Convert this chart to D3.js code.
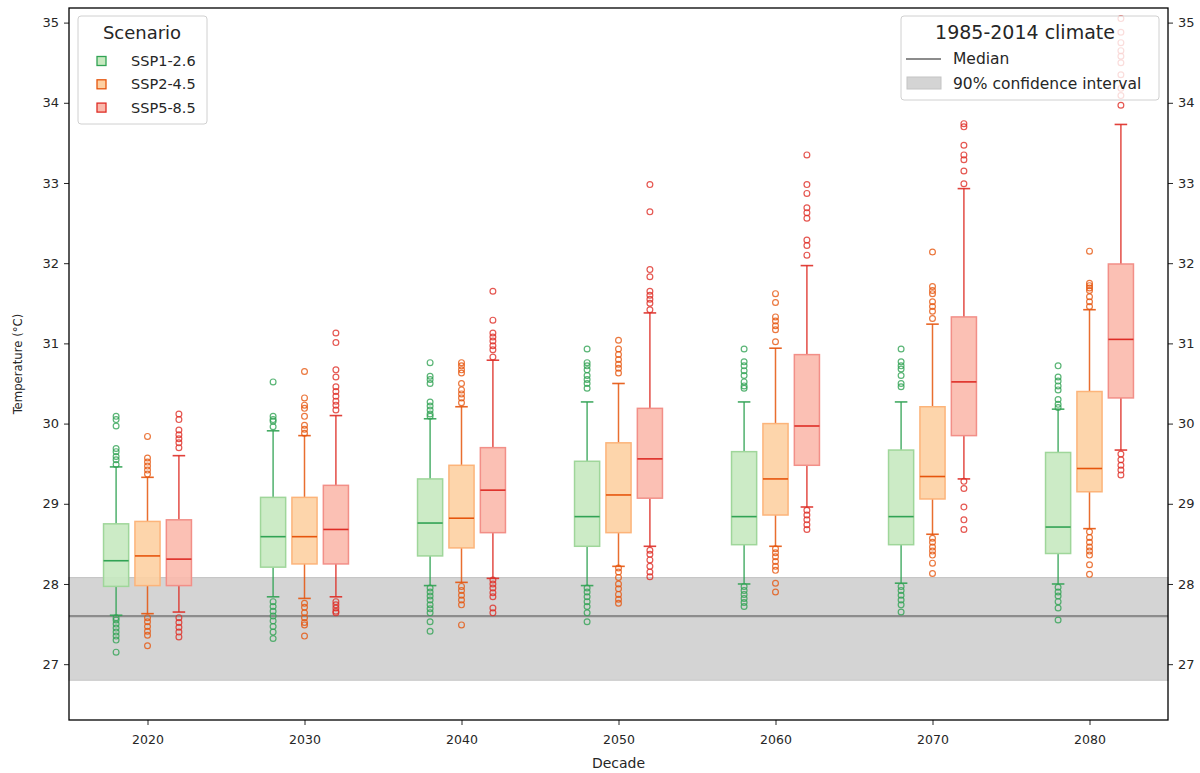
<!DOCTYPE html>
<html>
<head>
<meta charset="utf-8">
<script src="https://cdn.jsdelivr.net/npm/d3@7"></script>
<style>
  body { margin: 0; background: #fff; }
  text { font-family: "DejaVu Sans", sans-serif; fill: #262626; }
</style>
</head>
<body>
<div class="chart"></div>
<script>
// decades and scenarios
const decades = [2020, 2030, 2040, 2050, 2060, 2070, 2080];
const scenarios = ["SSP1-2.6", "SSP2-4.5", "SSP5-8.5"];
const yTicks = [27, 28, 29, 30, 31, 32, 33, 34, 35];

// box stats per decade: [low whisker, q1, median, q3, high whisker]
const ssp126 = [
  [27.61, 27.97, 28.29, 28.75, 29.46],
  [27.84, 28.21, 28.59, 29.08, 29.91],
  [27.98, 28.35, 28.76, 29.31, 30.06],
  [27.98, 28.47, 28.84, 29.53, 30.27],
  [28.0, 28.49, 28.84, 29.65, 30.27],
  [28.01, 28.49, 28.84, 29.67, 30.27],
  [28.0, 28.38, 28.71, 29.64, 30.18]
];
const ssp245 = [
  [27.63, 27.98, 28.35, 28.78, 29.33],
  [27.82, 28.25, 28.59, 29.08, 29.85],
  [28.02, 28.45, 28.82, 29.48, 30.21],
  [28.22, 28.64, 29.11, 29.76, 30.5],
  [28.47, 28.86, 29.31, 30.0, 30.94],
  [28.62, 29.06, 29.34, 30.21, 31.24],
  [28.69, 29.15, 29.44, 30.4, 31.42]
];
const ssp585 = [
  [27.65, 27.98, 28.31, 28.8, 29.6],
  [27.84, 28.25, 28.68, 29.23, 30.1],
  [28.07, 28.64, 29.17, 29.7, 30.79],
  [28.47, 29.07, 29.56, 30.19, 31.38],
  [28.96, 29.48, 29.97, 30.86, 31.97],
  [29.31, 29.85, 30.52, 31.33, 32.93],
  [29.67, 30.32, 31.05, 31.99, 33.73]
];

// outliers per decade
const ssp126Out = [
  [30.09, 30.05, 29.97, 29.69, 29.65, 29.59, 29.55, 29.49, 27.58, 27.55, 27.5, 27.45, 27.4, 27.35, 27.3, 27.15],
  [30.52, 30.09, 30.05, 30.03, 29.96, 27.78, 27.72, 27.66, 27.6, 27.54, 27.47, 27.4, 27.32],
  [30.76, 30.59, 30.55, 30.5, 30.27, 30.22, 30.17, 30.12, 30.09, 27.95, 27.9, 27.85, 27.8, 27.74, 27.69, 27.64, 27.53, 27.41],
  [30.93, 30.76, 30.72, 30.67, 30.6, 30.55, 30.5, 30.44, 27.95, 27.9, 27.84, 27.78, 27.72, 27.64, 27.53],
  [30.93, 30.77, 30.72, 30.66, 30.6, 30.52, 30.47, 30.44, 27.97, 27.92, 27.87, 27.82, 27.77, 27.72],
  [30.93, 30.77, 30.72, 30.68, 30.6, 30.5, 30.46, 27.97, 27.92, 27.86, 27.8, 27.74, 27.65],
  [30.72, 30.58, 30.53, 30.47, 30.42, 30.3, 30.24, 30.2, 27.96, 27.9, 27.85, 27.78, 27.7, 27.55]
];
const ssp245Out = [
  [29.84, 29.57, 29.52, 29.47, 29.42, 29.37, 27.58, 27.53, 27.47, 27.41, 27.36, 27.23],
  [30.65, 30.32, 30.23, 30.19, 30.09, 29.98, 29.93, 29.88, 27.76, 27.71, 27.64, 27.58, 27.52, 27.49, 27.35],
  [30.76, 30.72, 30.67, 30.63, 30.5, 30.42, 30.37, 30.32, 30.26, 27.97, 27.92, 27.86, 27.8, 27.74, 27.49],
  [31.04, 30.93, 30.86, 30.8, 30.74, 30.69, 30.63, 28.2, 28.15, 28.08, 28.0, 27.94, 27.87, 27.81, 27.76],
  [31.62, 31.51, 31.33, 31.28, 31.22, 31.17, 31.02, 28.44, 28.39, 28.34, 28.28, 28.22, 28.17, 28.01, 27.9],
  [32.14, 31.71, 31.66, 31.62, 31.52, 31.46, 31.4, 31.31, 28.57, 28.52, 28.46, 28.41, 28.36, 28.26, 28.13],
  [32.15, 31.75, 31.72, 31.69, 31.66, 31.58, 31.52, 31.46, 28.65, 28.58, 28.52, 28.46, 28.41, 28.36, 28.24, 28.12]
];
const ssp585Out = [
  [30.12, 30.05, 29.92, 29.86, 29.81, 29.76, 29.7, 27.58, 27.52, 27.46, 27.4, 27.34],
  [31.13, 31.01, 30.67, 30.58, 30.46, 30.4, 30.34, 30.28, 30.23, 30.17, 27.78, 27.74, 27.7, 27.66, 27.64],
  [31.65, 31.29, 31.13, 31.08, 31.03, 30.97, 30.92, 30.83, 28.05, 28.0, 27.95, 27.89, 27.84, 27.7, 27.64],
  [32.98, 32.64, 31.92, 31.83, 31.65, 31.6, 31.55, 31.5, 31.42, 28.42, 28.37, 28.3, 28.22, 28.15, 28.09],
  [33.35, 32.98, 32.87, 32.69, 32.63, 32.56, 32.29, 32.22, 32.1, 28.92, 28.86, 28.8, 28.74, 28.68],
  [33.74, 33.7, 33.47, 33.35, 33.29, 33.15, 32.99, 29.28, 29.19, 28.96, 28.8, 28.68],
  [35.05, 34.88, 34.75, 34.65, 34.58, 34.5, 34.35, 34.18, 34.09, 33.97, 29.62, 29.55, 29.48, 29.42, 29.36]
];

// 1985-2014 reference climate
const refMedian = 27.6;
const refInterval = [26.8, 28.08];

const stats = [ssp126, ssp245, ssp585];
const outliers = [ssp126Out, ssp245Out, ssp585Out];
const lineColors = ["#31a354", "#e6550d", "#de2d26"];
const fillColors = ["#c7e9c0", "#fdd0a2", "#fbb9ac"];
const edgeColors = ["#9fd69a", "#fcb47a", "#f28f88"];
const offsets = [-2, 0, 2];
const boxW = 1.6;

const W = 1200, H = 773;
const margin = { top: 8, left: 69, bottom: 53, right: 32 };
const width = W - margin.left - margin.right,
  height = H - margin.top - margin.bottom;

const svg = d3
  .select(".chart")
  .append("svg")
  .attr("width", W)
  .attr("height", H)
  .append("g")
  .attr("transform", `translate(${margin.left},${margin.top})`);

const xScale = d3.scaleLinear().domain([2015, 2085]).range([0, width]);
const yScale = d3.scaleLinear().domain([26.304, 35.182]).range([height, 0]);

// reference band + median
svg
  .append("rect")
  .attr("x", 0)
  .attr("width", width)
  .attr("y", yScale(refInterval[1]))
  .attr("height", yScale(refInterval[0]) - yScale(refInterval[1]))
  .attr("fill", "#d4d4d4")
  .attr("stroke", "#c4c4c4");

svg
  .append("line")
  .attr("x1", 0)
  .attr("x2", width)
  .attr("y1", yScale(refMedian))
  .attr("y2", yScale(refMedian))
  .attr("stroke", "#8c8c8c")
  .attr("stroke-width", 2.2);

// boxes
stats.forEach((series, s) => {
  const g = svg.append("g").attr("class", "scenario s" + s);
  series.forEach((st, i) => {
    const cx = decades[i] + offsets[s];
    const [lo, q1, med, q3, hi] = st;
    const x0 = xScale(cx - boxW / 2), x1 = xScale(cx + boxW / 2);
    const c0 = xScale(cx - boxW / 4), c1 = xScale(cx + boxW / 4);
    const xc = xScale(cx);

    // whiskers
    [[lo, q1], [q3, hi]].forEach(([a, b]) => {
      g.append("line")
        .attr("x1", xc).attr("x2", xc)
        .attr("y1", yScale(a)).attr("y2", yScale(b))
        .attr("stroke", lineColors[s]).attr("stroke-width", 1.5)
        .attr("opacity", 0.85);
    });
    [lo, hi].forEach((v) => {
      g.append("line")
        .attr("x1", c0).attr("x2", c1)
        .attr("y1", yScale(v)).attr("y2", yScale(v))
        .attr("stroke", lineColors[s]).attr("stroke-width", 1.6)
        .attr("opacity", 0.9);
    });

    g.append("rect")
      .attr("x", x0)
      .attr("width", x1 - x0)
      .attr("y", yScale(q3))
      .attr("height", yScale(q1) - yScale(q3))
      .attr("fill", fillColors[s])
      .attr("fill-opacity", 0.9)
      .attr("stroke", edgeColors[s])
      .attr("stroke-width", 1.5);

    g.append("line")
      .attr("x1", x0).attr("x2", x1)
      .attr("y1", yScale(med)).attr("y2", yScale(med))
      .attr("stroke", lineColors[s]).attr("stroke-width", 1.6);

    g.selectAll(".out" + i)
      .data(outliers[s][i])
      .enter()
      .append("circle")
      .attr("cx", xc)
      .attr("cy", (d) => yScale(d))
      .attr("r", 2.9)
      .attr("fill", "none")
      .attr("stroke", lineColors[s])
      .attr("stroke-width", 1.2)
      .attr("opacity", 0.8);
  });
});

// axes
const xAxis = d3.axisBottom(xScale).tickValues(decades).tickFormat(d3.format("d")).tickSize(5);
svg
  .append("g")
  .attr("class", "axis x-axis")
  .attr("transform", `translate(0, ${height})`)
  .call(xAxis)
  .call((g) => g.select(".domain").remove())
  .call((g) =>
    g.selectAll("text")
      .attr("dy", "1.3em")
      .style("font-size", "12.5px")
      .attr("fill", "#262626")
  );

const yAxisL = d3.axisLeft(yScale).tickValues(yTicks).tickSize(5).tickPadding(5);
const yAxisR = d3.axisRight(yScale).tickValues(yTicks).tickSize(5).tickPadding(5);
[[yAxisL, 0], [yAxisR, width]].forEach(([ax, tx]) => {
  svg
    .append("g")
    .attr("class", "axis y-axis")
    .attr("transform", `translate(${tx},0)`)
    .call(ax)
    .call((g) => g.select(".domain").remove())
    .call((g) => g.selectAll("text").style("font-size", "13px").attr("fill", "#262626"));
});
svg.selectAll(".axis line").attr("stroke", "#262626");

// frame
svg
  .append("rect")
  .attr("width", width)
  .attr("height", height)
  .attr("fill", "none")
  .attr("stroke", "#000")
  .attr("stroke-width", 1.3);

svg
  .append("text")
  .attr("x", width / 2)
  .attr("y", height + 48)
  .attr("text-anchor", "middle")
  .style("font-size", "14px")
  .text("Decade");

svg
  .append("text")
  .attr("transform", `translate(${-47},${height / 2}) rotate(-90)`)
  .attr("text-anchor", "middle")
  .style("font-size", "13px")
  .style("font-stretch", "condensed")
  .text("Temperature (°C)");

// scenario legend
const leg1 = svg.append("g").attr("transform", "translate(9,8)");
leg1.append("rect")
  .attr("width", 129).attr("height", 108).attr("rx", 3)
  .attr("fill", "#fff").attr("fill-opacity", 0.8)
  .attr("stroke", "#d0d0d0");
leg1.append("text")
  .attr("x", 64).attr("y", 23).attr("text-anchor", "middle")
  .style("font-size", "18px").text("Scenario");
scenarios.forEach((name, s) => {
  const yy = 45 + s * 23.3;
  leg1.append("rect")
    .attr("x", 19).attr("y", yy - 4.5).attr("width", 9).attr("height", 9)
    .attr("fill", fillColors[s]).attr("stroke", lineColors[s]).attr("stroke-width", 1.3);
  leg1.append("text")
    .attr("x", 53).attr("y", yy + 5)
    .style("font-size", "14.5px").text(name);
});

// reference legend
const leg2 = svg.append("g").attr("transform", `translate(${width - 267},8)`);
leg2.append("rect")
  .attr("width", 258).attr("height", 84).attr("rx", 3)
  .attr("fill", "#fff").attr("fill-opacity", 0.8)
  .attr("stroke", "#d0d0d0");
leg2.append("text")
  .attr("x", 124).attr("y", 23).attr("text-anchor", "middle")
  .style("font-size", "19px").text("1985-2014 climate");
leg2.append("line")
  .attr("x1", 5).attr("x2", 40).attr("y1", 43).attr("y2", 43)
  .attr("stroke", "#8c8c8c").attr("stroke-width", 2.2);
leg2.append("text")
  .attr("x", 52).attr("y", 48).style("font-size", "15.5px").text("Median");
leg2.append("rect")
  .attr("x", 6).attr("y", 61).attr("width", 34).attr("height", 12)
  .attr("fill", "#d4d4d4").attr("stroke", "#c4c4c4");
leg2.append("text")
  .attr("x", 52).attr("y", 72.5).style("font-size", "15.5px").text("90% confidence interval");
</script>
</body>
</html>
